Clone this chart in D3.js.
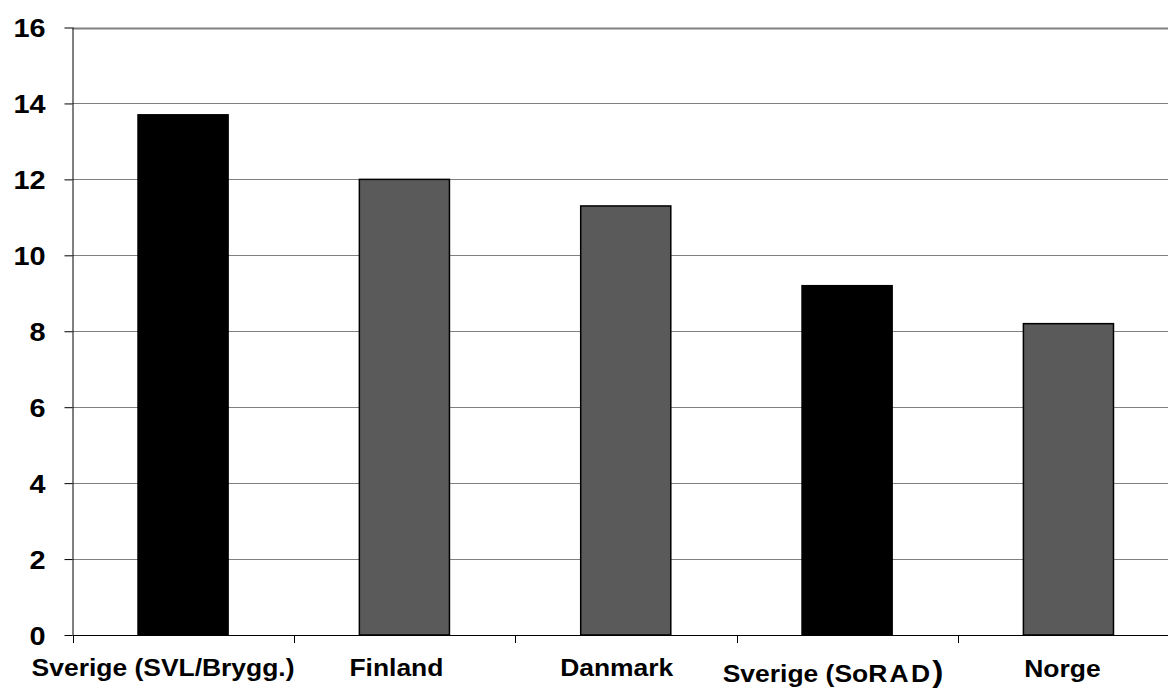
<!DOCTYPE html>
<html>
<head>
<meta charset="utf-8">
<script src="https://cdn.jsdelivr.net/npm/d3@7"></script>
<style>
  body { margin: 0; background: #fff; }
  text { font-family: "Liberation Sans", Arial, sans-serif; font-weight: bold; fill: #000; }
</style>
</head>
<body>
<div class="chart"></div>
<script>
const categories = ['Sverige (SVL/Brygg.)', 'Finland', 'Danmark', 'Sverige (SoRAD)', 'Norge'];
const values = [13.7, 12.0, 11.3, 9.2, 8.2];
const barColors = ['#000000', '#5a5a5a', '#5a5a5a', '#000000', '#5a5a5a'];
const yTicks = [0, 2, 4, 6, 8, 10, 12, 14, 16];

const width = 1168, height = 688;
const margin = ({top: 27.5, bottom: 53, left: 72.5, right: -11});

const svg = d3.select('.chart').append('svg')
    .attr('width', width)
    .attr('height', height);

const xScale = d3.scaleBand()
    .domain(categories)
    .range([margin.left, width - margin.right])
    .paddingInner(0.593)
    .paddingOuter(0.296);

const yScale = d3.scaleLinear()
    .domain([0, 16])
    .range([height - margin.bottom, margin.top]);

// band edges for the category ticks
const step = xScale.step();
const bandStart = margin.left;

// gridlines
svg.append('g')
    .selectAll('line')
    .data(yTicks.filter(d => d > 0))
    .enter()
    .append('line')
    .attr('x1', margin.left)
    .attr('x2', width)
    .attr('y1', d => Math.round(yScale(d)) + 0.5)
    .attr('y2', d => Math.round(yScale(d)) + 0.5)
    .attr('stroke', '#808080')
    .attr('stroke-width', d => d === 16 ? 2 : 1);

// bars
svg.append('g')
    .selectAll('rect')
    .data(values)
    .enter()
    .append('rect')
    .attr('x', (d, i) => xScale(categories[i]))
    .attr('y', d => yScale(d))
    .attr('width', xScale.bandwidth())
    .attr('height', d => yScale(0) - yScale(d))
    .attr('fill', (d, i) => barColors[i])
    .attr('stroke', '#000')
    .attr('stroke-width', 1.5);

// y axis
const yAxis = d3.axisLeft(yScale)
    .tickValues(yTicks)
    .tickSize(8)
    .tickPadding(0)
    .tickFormat(d3.format('d'));

const gy = svg.append('g')
    .attr('transform', `translate(${margin.left},0)`)
    .call(yAxis);
gy.select('.domain').attr('stroke', '#000').attr('d', `M0.5,${margin.top}V${yScale(0)}`);
gy.selectAll('.tick line').attr('stroke', '#000');
gy.selectAll('.tick text')
    .attr('x', 0)
    .attr('dy', 0)
    .attr('text-anchor', 'end')
    .attr('transform', 'translate(-27,9) scale(1.11,1)')
    .style('font-size', '26px');

// x axis line and category ticks
const y0 = yScale(0);
svg.append('line')
    .attr('x1', margin.left)
    .attr('x2', width)
    .attr('y1', y0 + 0.5)
    .attr('y2', y0 + 0.5)
    .attr('stroke', '#000');

svg.append('g')
    .selectAll('line')
    .data(d3.range(categories.length))
    .enter()
    .append('line')
    .attr('x1', i => Math.round(bandStart + i * step) + 0.5)
    .attr('x2', i => Math.round(bandStart + i * step) + 0.5)
    .attr('y1', y0)
    .attr('y2', y0 + 8)
    .attr('stroke', '#000');

// category labels
const labelShift = [-20, -8, -9, -14, -6];
const labelDrop = [0, 0, 0, 6, 1];

const labels = svg.append('g')
    .selectAll('text')
    .data(categories)
    .enter()
    .append('text')
    .attr('text-anchor', 'middle')
    .attr('transform', (d, i) => `translate(${xScale(d) + xScale.bandwidth() / 2 + labelShift[i]},${676 + labelDrop[i]}) scale(1.15,1)`)
    .style('font-size', '23px');

labels.each(function(d) {
    const t = d3.select(this);
    if (d === 'Sverige (SoRAD)') {
        t.append('tspan').text('Sverige (So');
        t.append('tspan').text('RAD').attr('letter-spacing', '2px');
        t.append('tspan').text(')').style('font-size', '29px');
    } else {
        t.text(d);
    }
});
</script>
</body>
</html>
